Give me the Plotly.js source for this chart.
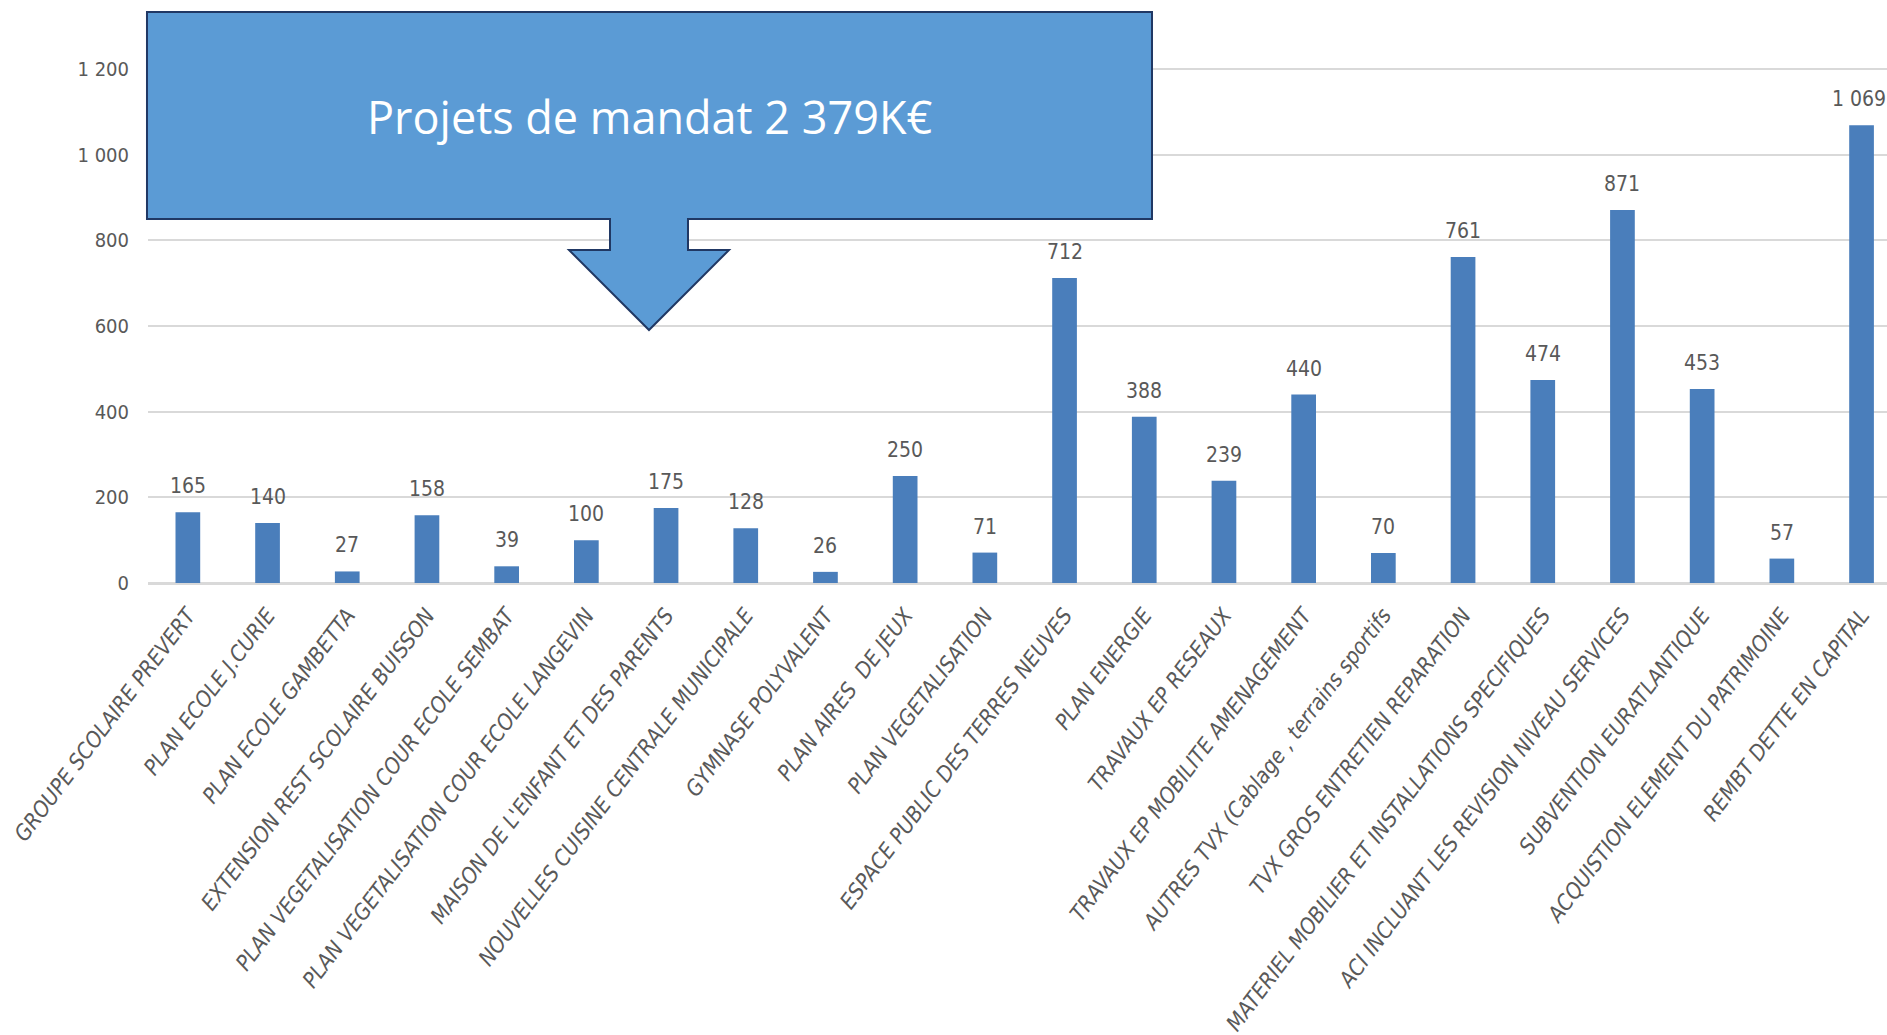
<!DOCTYPE html>
<html>
<head>
<meta charset="utf-8">
<script src="https://cdn.plot.ly/plotly-3.0.1.min.js"></script>
<style>
  html, body { margin: 0; padding: 0; background: #ffffff; overflow: hidden; }
  #chart { width: 1887px; height: 1035px; }
</style>
</head>
<body>
<div id="chart"></div>
<script>
// ---- data ----
const categories = [
  "GROUPE SCOLAIRE PREVERT",
  "PLAN ECOLE J.CURIE",
  "PLAN ECOLE GAMBETTA",
  "EXTENSION REST SCOLAIRE BUISSON",
  "PLAN VEGETALISATION COUR ECOLE SEMBAT",
  "PLAN VEGETALISATION COUR ECOLE LANGEVIN",
  "MAISON DE L'ENFANT ET DES PARENTS",
  "NOUVELLES CUISINE CENTRALE MUNICIPALE",
  "GYMNASE POLYVALENT",
  "PLAN AIRES  DE JEUX",
  "PLAN VEGETALISATION",
  "ESPACE PUBLIC DES TERRES NEUVES",
  "PLAN ENERGIE",
  "TRAVAUX EP RESEAUX",
  "TRAVAUX EP MOBILITE AMENAGEMENT",
  "AUTRES TVX (Cablage , terrains sportifs",
  "TVX GROS ENTRETIEN REPARATION",
  "MATERIEL MOBILIER ET INSTALLATIONS SPECIFIQUES",
  "ACI INCLUANT LES REVISION NIVEAU SERVICES",
  "SUBVENTION EURATLANTIQUE",
  "ACQUISTION ELEMENT DU PATRIMOINE",
  "REMBT DETTE EN CAPITAL"
];
const values = [165, 140, 27, 158, 39, 100, 175, 128, 26, 250, 71, 712, 388, 239, 440, 70, 761, 474, 871, 453, 57, 1069];
const yTickValues = [0, 200, 400, 600, 800, 1000, 1200];
const calloutText = "Projets de mandat 2 379K€";

// ---- layout helpers ----
const W = 1887, H = 1035;
const ML = 148, MR = 0, MT = 0, MB = 452;
const PW = W - ML - MR, PH = H - MT - MB;
const px = x => (x - ML) / PW;
const py = y => (MT + PH - y) / PH;

function fmt(v) {
  return String(v).replace(/\B(?=(\d{3})+(?!\d))/g, " ");
}

const narrow = "'Liberation Sans Narrow', 'DejaVu Sans Condensed', 'Roboto Condensed', sans-serif";
const grey = "#595959";

const trace = {
  type: "bar",
  x: categories,
  y: values,
  marker: { color: "#4a7ebb" },
  hoverinfo: "x+y"
};

const labelAnnotations = categories.map((c, i) => ({
  x: c, y: values[i], xref: "x", yref: "y",
  text: fmt(values[i]),
  showarrow: false,
  yanchor: "bottom",
  yshift: 12,
  xshift: i === categories.length - 1 ? -3 : 0,
  font: { family: narrow, size: 21, color: grey }
}));

// callout (rectangle with down arrow)
const rL = 147, rT = 12, rR = 1152, rB = 219;
const sL = 610, sR = 688, hY = 250, hL = 569, hR = 729, tX = 649, tY = 330;
const pts = [[rL, rT], [rR, rT], [rR, rB], [sR, rB], [sR, hY], [hR, hY], [tX, tY], [hL, hY], [sL, hY], [sL, rB], [rL, rB]];
const path = "M " + pts.map(p => px(p[0]).toFixed(5) + "," + py(p[1]).toFixed(5)).join(" L ") + " Z";

const layout = {
  width: W, height: H,
  margin: { l: ML, r: MR, t: MT, b: MB, pad: 0 },
  paper_bgcolor: "#ffffff",
  plot_bgcolor: "#ffffff",
  separators: ", ",
  showlegend: false,
  bargap: 0.69,
  xaxis: {
    type: "category",
    range: [-0.5, -0.5 + PW / 79.7],
    showgrid: false,
    showline: false,
    zeroline: false,
    ticks: "",
    tickangle: -53,
    ticklabelstandoff: 14,
    tickfont: { family: narrow, size: 22, color: grey, style: "italic" },
    fixedrange: true
  },
  yaxis: {
    range: [0, PH / 0.4283],
    tickvals: yTickValues,
    ticktext: yTickValues.map(fmt),
    showgrid: true,
    gridcolor: "#d9d9d9",
    gridwidth: 2,
    zeroline: true,
    zerolinecolor: "#d9d9d9",
    zerolinewidth: 3,
    showline: false,
    ticks: "",
    ticklabelstandoff: 18,
    tickfont: { family: narrow, size: 20, color: grey },
    fixedrange: true
  },
  shapes: [{
    type: "path",
    xref: "paper", yref: "paper",
    path: path,
    fillcolor: "#5b9bd5",
    line: { color: "#203864", width: 2 },
    layer: "above"
  }],
  annotations: labelAnnotations.concat([{
    xref: "paper", yref: "paper",
    x: px(650), y: py(117),
    xanchor: "center", yanchor: "middle",
    text: calloutText,
    showarrow: false,
    font: { family: "'Open Sans', 'Noto Sans', sans-serif", size: 45, color: "#ffffff" }
  }])
};

Plotly.newPlot("chart", [trace], layout, { displayModeBar: false, staticPlot: true });
</script>
</body>
</html>
